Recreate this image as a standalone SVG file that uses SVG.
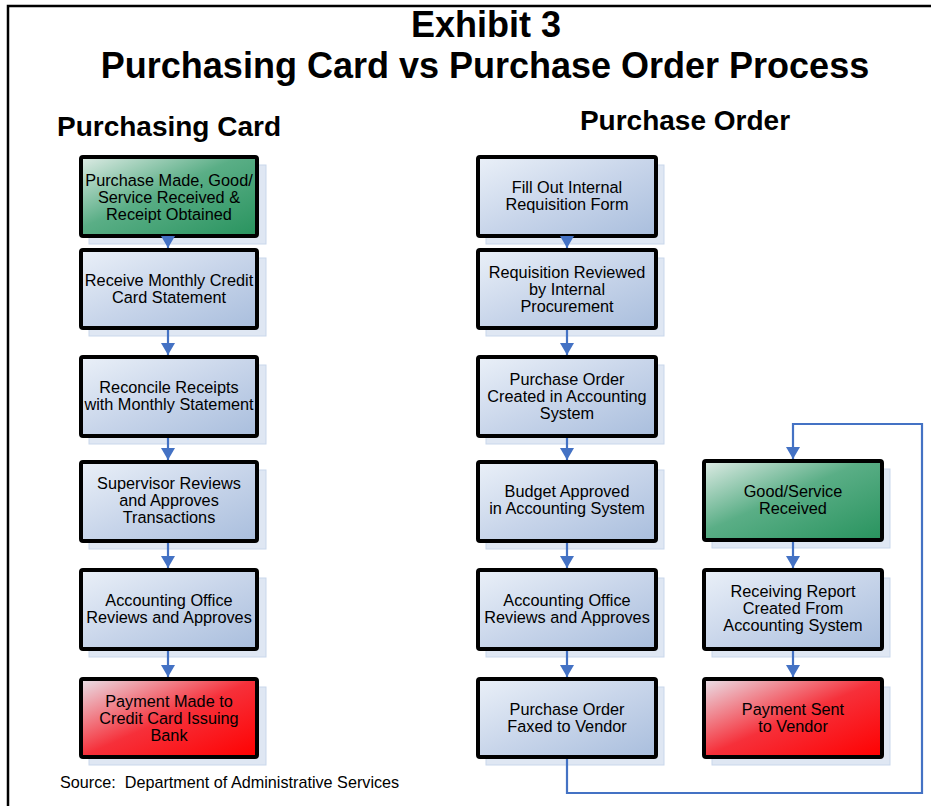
<svg xmlns="http://www.w3.org/2000/svg" width="934" height="806" viewBox="0 0 934 806">
<defs>
<linearGradient id="gBlue" x1="0" y1="0" x2="1" y2="1">
<stop offset="0" stop-color="#eaf0f8"/><stop offset="0.5" stop-color="#c8d5ea"/><stop offset="1" stop-color="#a9bedd"/>
</linearGradient>
<linearGradient id="gGreen" x1="0" y1="0" x2="1" y2="1">
<stop offset="0" stop-color="#dfece6"/><stop offset="0.45" stop-color="#5aae86"/><stop offset="1" stop-color="#28935e"/>
</linearGradient>
<linearGradient id="gRed" x1="0" y1="0" x2="1" y2="1">
<stop offset="0" stop-color="#e9e2ea"/><stop offset="0.5" stop-color="#f6303a"/><stop offset="1" stop-color="#ff0000"/>
</linearGradient>
<marker id="ah" viewBox="0 0 12 14" refX="12" refY="7" markerWidth="12" markerHeight="14" orient="auto" markerUnits="userSpaceOnUse">
<path d="M0,0 L12,7 L0,14 z" fill="#4472c4"/>
</marker>
</defs>
<style>
.shadow{fill:#dfe7f3;stroke:#c9d7eb;stroke-width:1}
.box{stroke:#000;stroke-width:4}
.blue{fill:url(#gBlue)}
.green{fill:url(#gGreen)}
.red{fill:url(#gRed)}
.t{font-family:"Liberation Sans",Arial,sans-serif;font-size:16.3px;fill:#000;text-anchor:middle}
.h{font-family:"Liberation Sans",Arial,sans-serif;font-weight:bold;fill:#000;text-anchor:middle}
.c{fill:none;stroke:#4472c4;stroke-width:2.2}
</style>
<rect width="934" height="806" fill="#fff"/>
<path d="M8,806 V6 H931" fill="none" stroke="#000" stroke-width="2.5"/>
<text class="h" x="486" y="37" font-size="36">Exhibit 3</text>
<text class="h" x="485" y="78" font-size="36">Purchasing Card vs Purchase Order Process</text>
<text class="h" x="169" y="136" font-size="28">Purchasing Card</text>
<text class="h" x="685" y="130" font-size="28">Purchase Order</text>
<text x="60" y="788" font-family="'Liberation Sans',Arial,sans-serif" font-size="16.2" xml:space="preserve">Source:  Department of Administrative Services</text>

<g id="pc1"><rect class="shadow" x="89" y="165" width="177" height="79"/><rect class="box green" x="81" y="157" width="176" height="79" rx="2"/>
<text class="t" x="169" y="186">Purchase Made, Good/</text><text class="t" x="169" y="203">Service Received &amp;</text><text class="t" x="169" y="220">Receipt Obtained</text></g>
<g id="pc2"><rect class="shadow" x="89" y="258" width="177" height="78"/><rect class="box blue" x="81" y="250" width="176" height="78" rx="2"/>
<text class="t" x="169" y="286">Receive Monthly Credit</text><text class="t" x="169" y="303">Card Statement</text></g>
<g id="pc3"><rect class="shadow" x="89" y="365" width="177" height="79"/><rect class="box blue" x="81" y="357" width="176" height="79" rx="2"/>
<text class="t" x="169" y="393">Reconcile Receipts</text><text class="t" x="169" y="410">with Monthly Statement</text></g>
<g id="pc4"><rect class="shadow" x="89" y="470" width="177" height="79"/><rect class="box blue" x="81" y="462" width="176" height="79" rx="2"/>
<text class="t" x="169" y="489">Supervisor Reviews</text><text class="t" x="169" y="506">and Approves</text><text class="t" x="169" y="523">Transactions</text></g>
<g id="pc5"><rect class="shadow" x="89" y="578" width="177" height="79"/><rect class="box blue" x="81" y="570" width="176" height="79" rx="2"/>
<text class="t" x="169" y="606">Accounting Office</text><text class="t" x="169" y="623">Reviews and Approves</text></g>
<g id="pc6"><rect class="shadow" x="89" y="687" width="177" height="78"/><rect class="box red" x="81" y="679" width="176" height="78" rx="2"/>
<text class="t" x="169" y="707">Payment Made to</text><text class="t" x="169" y="724">Credit Card Issuing</text><text class="t" x="169" y="741">Bank</text></g>

<g id="po1"><rect class="shadow" x="486" y="165" width="178" height="79"/><rect class="box blue" x="478" y="157" width="178" height="79" rx="2"/>
<text class="t" x="567" y="193">Fill Out Internal</text><text class="t" x="567" y="210">Requisition Form</text></g>
<g id="po2"><rect class="shadow" x="486" y="258" width="178" height="78"/><rect class="box blue" x="478" y="250" width="178" height="78" rx="2"/>
<text class="t" x="567" y="278">Requisition Reviewed</text><text class="t" x="567" y="295">by Internal</text><text class="t" x="567" y="312">Procurement</text></g>
<g id="po3"><rect class="shadow" x="486" y="365" width="178" height="79"/><rect class="box blue" x="478" y="357" width="178" height="79" rx="2"/>
<text class="t" x="567" y="385">Purchase Order</text><text class="t" x="567" y="402">Created in Accounting</text><text class="t" x="567" y="419">System</text></g>
<g id="po4"><rect class="shadow" x="486" y="470" width="178" height="79"/><rect class="box blue" x="478" y="462" width="178" height="79" rx="2"/>
<text class="t" x="567" y="497">Budget Approved</text><text class="t" x="567" y="514">in Accounting System</text></g>
<g id="po5"><rect class="shadow" x="486" y="578" width="178" height="79"/><rect class="box blue" x="478" y="570" width="178" height="79" rx="2"/>
<text class="t" x="567" y="606">Accounting Office</text><text class="t" x="567" y="623">Reviews and Approves</text></g>
<g id="po6"><rect class="shadow" x="486" y="687" width="178" height="78"/><rect class="box blue" x="478" y="679" width="178" height="78" rx="2"/>
<text class="t" x="567" y="715">Purchase Order</text><text class="t" x="567" y="732">Faxed to Vendor</text></g>

<g id="gs1"><rect class="shadow" x="712" y="469" width="178" height="79"/><rect class="box green" x="704" y="461" width="178" height="79" rx="2"/>
<text class="t" x="793" y="497">Good/Service</text><text class="t" x="793" y="514">Received</text></g>
<g id="gs2"><rect class="shadow" x="712" y="578" width="178" height="79"/><rect class="box blue" x="704" y="570" width="178" height="79" rx="2"/>
<text class="t" x="793" y="597">Receiving Report</text><text class="t" x="793" y="614">Created From</text><text class="t" x="793" y="631">Accounting System</text></g>
<g id="gs3"><rect class="shadow" x="712" y="687" width="178" height="78"/><rect class="box red" x="704" y="679" width="178" height="78" rx="2"/>
<text class="t" x="793" y="715">Payment Sent</text><text class="t" x="793" y="732">to Vendor</text></g>

<g id="connectors">
<path class="c" d="M168,238 V248" marker-end="url(#ah)"/>
<path class="c" d="M168,330 V355" marker-end="url(#ah)"/>
<path class="c" d="M168,438 V460" marker-end="url(#ah)"/>
<path class="c" d="M168,543 V568" marker-end="url(#ah)"/>
<path class="c" d="M168,651 V677" marker-end="url(#ah)"/>
<path class="c" d="M567,238 V248" marker-end="url(#ah)"/>
<path class="c" d="M567,330 V355" marker-end="url(#ah)"/>
<path class="c" d="M567,438 V460" marker-end="url(#ah)"/>
<path class="c" d="M567,543 V568" marker-end="url(#ah)"/>
<path class="c" d="M567,651 V677" marker-end="url(#ah)"/>
<path class="c" d="M793,542 V568" marker-end="url(#ah)"/>
<path class="c" d="M793,651 V677" marker-end="url(#ah)"/>
<path class="c" d="M567,759 V793 H922 V424 H793 V459" marker-end="url(#ah)"/>
</g>
</svg>
